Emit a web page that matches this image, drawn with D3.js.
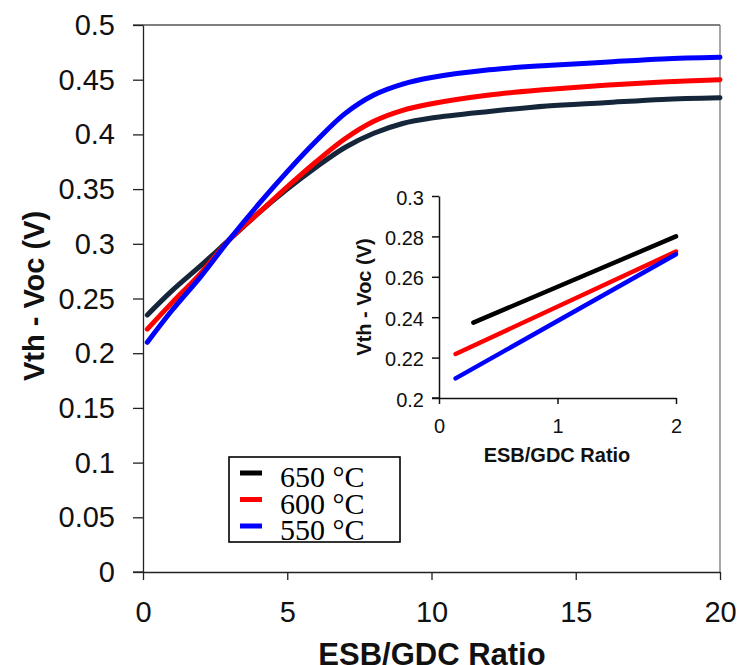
<!DOCTYPE html>
<html>
<head>
<meta charset="utf-8">
<script src="https://cdn.jsdelivr.net/npm/d3@7"></script>
<style>
  html, body { margin: 0; padding: 0; background: #fff; }
  svg { display: block; }
</style>
</head>
<body>
<svg id="chart" width="740" height="665"></svg>
<script>
// ---- data ----
const mainX = [0.15, 1, 2, 3, 4, 5, 6, 7, 8, 9, 10, 12, 14, 16, 18, 20];
const main650 = [0.235, 0.257, 0.280, 0.304, 0.328, 0.350, 0.370, 0.388, 0.401, 0.410, 0.415, 0.421, 0.426, 0.429, 0.432, 0.4335];
const main600 = [0.222, 0.246, 0.273, 0.304, 0.328, 0.352, 0.375, 0.396, 0.412, 0.422, 0.428, 0.436, 0.441, 0.445, 0.448, 0.450];
const main550 = [0.210, 0.239, 0.270, 0.304, 0.336, 0.366, 0.394, 0.419, 0.436, 0.446, 0.452, 0.459, 0.463, 0.466, 0.469, 0.4705];

const inset650X = [0.29, 2];
const inset650 = [0.2373, 0.2800];
const inset600X = [0.14, 2];
const inset600 = [0.2218, 0.2725];
const inset550X = [0.14, 2];
const inset550 = [0.2097, 0.2712];

const seriesNames = ["650 °C", "600 °C", "550 °C"];
const mainXTicks = [0, 5, 10, 15, 20];
const mainYTicks = [0, 0.05, 0.1, 0.15, 0.2, 0.25, 0.3, 0.35, 0.4, 0.45, 0.5];
const insetXTicks = [0, 1, 2];
const insetYTicks = [0.2, 0.22, 0.24, 0.26, 0.28, 0.3];
const xTitle = "ESB/GDC Ratio";
const yTitle = "Vth - Voc (V)";

// ---- drawing ----
const svg = d3.select("#chart");
const sans = "Liberation Sans, Arial, sans-serif";
const serif = "Liberation Serif, Times New Roman, serif";

const x = d3.scaleLinear().domain([0, 20]).range([143, 720]);
const y = d3.scaleLinear().domain([0, 0.5]).range([572, 25]);

// frame (top + right)
svg.append("line").attr("x1", 133).attr("x2", 720).attr("y1", 25).attr("y2", 25)
  .attr("stroke", "#555").attr("stroke-width", 1.3);
svg.append("line").attr("x1", 720).attr("x2", 720).attr("y1", 25).attr("y2", 572)
  .attr("stroke", "#777").attr("stroke-width", 1.3);

// axes
const xAxis = svg.append("g").attr("transform", "translate(0,572)")
  .call(d3.axisBottom(x).tickValues(mainXTicks).tickSize(8).tickSizeOuter(0).tickFormat(d3.format("d")));
const yAxis = svg.append("g").attr("transform", "translate(143,0)")
  .call(d3.axisLeft(y).tickValues(mainYTicks).tickSize(10).tickSizeOuter(0).tickFormat(d => String(+d.toFixed(2))));

[xAxis, yAxis].forEach(g => {
  g.select(".domain").attr("stroke", "#222").attr("stroke-width", 1.3);
  g.selectAll(".tick line").attr("stroke", "#222").attr("stroke-width", 1.3);
  g.selectAll(".tick text").attr("font-family", sans).attr("font-size", 29).attr("fill", "#111");
});
svg.append("line").attr("x1", 133).attr("x2", 143).attr("y1", 572).attr("y2", 572)
  .attr("stroke", "#222").attr("stroke-width", 1.3);
xAxis.selectAll(".tick text").attr("y", 0).attr("dy", 0).attr("transform", "translate(0,50)");
yAxis.selectAll(".tick text").attr("x", -28).attr("dy", "0.33em");

// titles
svg.append("text").attr("x", 432).attr("y", 665).attr("text-anchor", "middle")
  .attr("font-family", sans).attr("font-weight", "bold").attr("font-size", 31).attr("fill", "#111")
  .text(xTitle);
svg.append("text").attr("transform", "translate(44,296) rotate(-90)").attr("text-anchor", "middle")
  .attr("font-family", sans).attr("font-weight", "bold").attr("font-size", 29).attr("fill", "#111")
  .text(yTitle);

// main lines
const line = d3.line().x(d => x(d[0])).y(d => y(d[1])).curve(d3.curveCatmullRom.alpha(0.5));
const mainColors = ["#16263a", "#ff0000", "#0000ff"];
const mainSeries = [main650, main600, main550];
[0, 1, 2].forEach(i => {
  svg.append("path")
    .datum(mainX.map((v, k) => [v, mainSeries[i][k]]))
    .attr("fill", "none").attr("stroke", mainColors[i]).attr("stroke-width", 5)
    .attr("stroke-linecap", "round").attr("stroke-linejoin", "round")
    .attr("d", line);
});

// legend
const lg = svg.append("g");
lg.append("rect").attr("x", 229).attr("y", 457).attr("width", 171).attr("height", 85)
  .attr("fill", "#fff").attr("stroke", "#000").attr("stroke-width", 1.6);
const legendColors = ["#000000", "#ff0000", "#0000ff"];
const legendBase = [487, 513.5, 540];
seriesNames.forEach((name, i) => {
  lg.append("line").attr("x1", 240).attr("x2", 262)
    .attr("y1", legendBase[i] - 14).attr("y2", legendBase[i] - 14)
    .attr("stroke", legendColors[i]).attr("stroke-width", 5);
  lg.append("text").attr("x", 280).attr("y", legendBase[i])
    .attr("font-family", serif).attr("font-size", 30).attr("fill", "#000").text(name);
});

// ---- inset ----
const xi = d3.scaleLinear().domain([0, 2]).range([439, 676]);
const yi = d3.scaleLinear().domain([0.2, 0.3]).range([398, 196]);

const ixAxis = svg.append("g").attr("transform", "translate(0,398)")
  .call(d3.axisBottom(xi).tickValues(insetXTicks).tickSize(6).tickSizeOuter(0).tickFormat(d3.format("d")));
const iyAxis = svg.append("g").attr("transform", "translate(439,0)")
  .call(d3.axisLeft(yi).tickValues(insetYTicks).tickSize(7).tickSizeOuter(0).tickFormat(d => String(+d.toFixed(2))));
[ixAxis, iyAxis].forEach(g => {
  g.select(".domain").attr("stroke", "#111").attr("stroke-width", 1.5);
  g.selectAll(".tick line").attr("stroke", "#111").attr("stroke-width", 1.5);
  g.selectAll(".tick text").attr("font-family", sans).attr("font-size", 20).attr("fill", "#111");
});
svg.append("line").attr("x1", 432).attr("x2", 439).attr("y1", 398).attr("y2", 398)
  .attr("stroke", "#111").attr("stroke-width", 1.5);
ixAxis.selectAll(".tick text").attr("y", 0).attr("dy", 0).attr("transform", "translate(0,35)");
iyAxis.selectAll(".tick text").attr("x", -15).attr("dy", "0.4em");

svg.append("text").attr("x", 557).attr("y", 462).attr("text-anchor", "middle")
  .attr("font-family", sans).attr("font-weight", "bold").attr("font-size", 20).attr("fill", "#111")
  .text(xTitle);
svg.append("text").attr("transform", "translate(371,297) rotate(-90)").attr("text-anchor", "middle")
  .attr("font-family", sans).attr("font-weight", "bold").attr("font-size", 20).attr("fill", "#111")
  .text(yTitle);

const iline = d3.line().x(d => xi(d[0])).y(d => yi(d[1]));
const insetData = [[inset650X, inset650], [inset600X, inset600], [inset550X, inset550]];
insetData.forEach(([xs, ys], i) => {
  svg.append("path")
    .datum(xs.map((v, k) => [v, ys[k]]))
    .attr("fill", "none").attr("stroke", legendColors[i]).attr("stroke-width", 4.5)
    .attr("stroke-linecap", "round")
    .attr("d", iline);
});
</script>
</body>
</html>
